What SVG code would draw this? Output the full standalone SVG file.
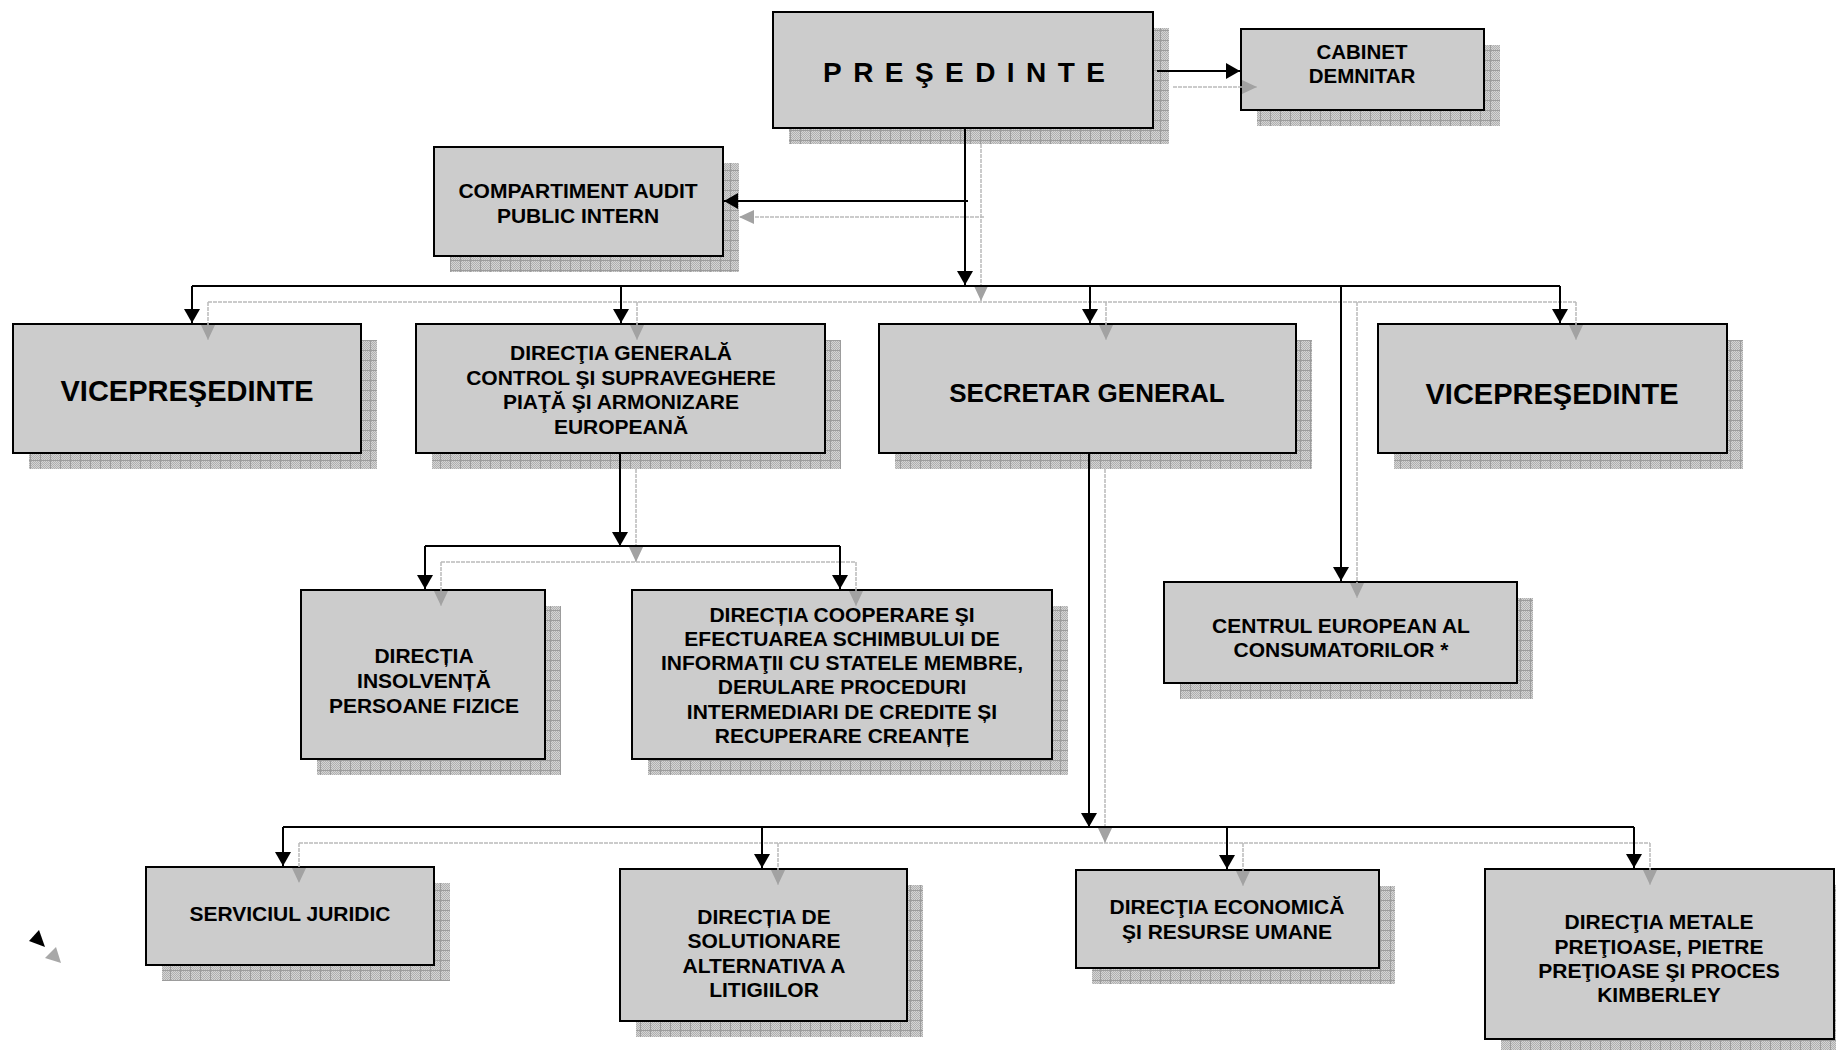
<svg xmlns="http://www.w3.org/2000/svg" width="1836" height="1050" viewBox="0 0 1836 1050">
<defs>
<pattern id="chk" width="2" height="2" patternUnits="userSpaceOnUse">
<rect width="2" height="2" fill="#d4d4d4"/><rect width="1" height="1" fill="#b0b0b0"/><rect x="1" y="1" width="1" height="1" fill="#b0b0b0"/>
</pattern>
<pattern id="grid" width="10" height="10" patternUnits="userSpaceOnUse">
<rect width="10" height="10" fill="url(#chk)"/>
<path d="M0 0.5H10M0.5 0V10" stroke="#9c9c9c" stroke-width="1"/>
</pattern>
<marker id="ab" markerUnits="userSpaceOnUse" viewBox="0 0 14 16" markerWidth="14" markerHeight="16" refX="14" refY="8" orient="auto">
<path d="M0 0L14 8L0 16Z" fill="#000"/>
</marker>
<marker id="ag" markerUnits="userSpaceOnUse" viewBox="0 0 15 14" markerWidth="15" markerHeight="14" refX="15" refY="7" orient="auto">
<path d="M0 0L15 7L0 14Z" fill="#a2a2a2"/>
</marker>
<style>
.sh{fill:url(#grid)}
.box{fill:#cccccc;stroke:#000;stroke-width:2}
.t{font-family:"Liberation Sans",Arial,sans-serif;font-weight:bold;font-size:21px;text-anchor:middle;fill:#000}
.c{fill:none;stroke:#000;stroke-width:2}
.ca{fill:none;stroke:#000;stroke-width:2;marker-end:url(#ab)}
.s{fill:none;stroke:#bababa;stroke-width:1.5;stroke-dasharray:4 1}
.sa{fill:none;stroke:#bababa;stroke-width:1.5;stroke-dasharray:4 1;marker-end:url(#ag)}
</style>
</defs>
<rect width="1836" height="1050" fill="#fff"/>

<g id="presedinte">
<rect class="sh" x="789" y="28" width="380" height="116"/>
<rect class="box" x="773" y="12" width="380" height="116"/>
<text class="t" x="823" y="82" style="font-size:28px;text-anchor:start" textLength="282" lengthAdjust="spacing">PREŞEDINTE</text>
</g>

<g id="cabinet">
<rect class="sh" x="1257" y="45" width="243" height="81"/>
<rect class="box" x="1241" y="29" width="243" height="81"/>
<text class="t" style="font-size:20.5px"><tspan x="1362" y="59">CABINET</tspan><tspan x="1362" y="83">DEMNITAR</tspan></text>
</g>

<g id="audit">
<rect class="sh" x="450" y="163" width="289" height="109"/>
<rect class="box" x="434" y="147" width="289" height="109"/>
<text class="t"><tspan x="578" y="198">COMPARTIMENT AUDIT</tspan><tspan x="578" y="223">PUBLIC INTERN</tspan></text>
</g>

<g id="vice1">
<rect class="sh" x="29" y="340" width="348" height="129"/>
<rect class="box" x="13" y="324" width="348" height="129"/>
<text class="t" x="187" y="401" style="font-size:29px">VICEPREŞEDINTE</text>
</g>

<g id="dg">
<rect class="sh" x="432" y="340" width="409" height="129"/>
<rect class="box" x="416" y="324" width="409" height="129"/>
<text class="t"><tspan x="621" y="360">DIRECŢIA GENERALĂ</tspan><tspan x="621" y="385">CONTROL ŞI SUPRAVEGHERE</tspan><tspan x="621" y="409">PIAŢĂ ŞI ARMONIZARE</tspan><tspan x="621" y="434">EUROPEANĂ</tspan></text>
</g>

<g id="secretar">
<rect class="sh" x="895" y="340" width="417" height="129"/>
<rect class="box" x="879" y="324" width="417" height="129"/>
<text class="t" x="1087" y="402" style="font-size:26px">SECRETAR GENERAL</text>
</g>

<g id="vice2">
<rect class="sh" x="1394" y="340" width="349" height="129"/>
<rect class="box" x="1378" y="324" width="349" height="129"/>
<text class="t" x="1552" y="404" style="font-size:29px">VICEPREŞEDINTE</text>
</g>

<g id="insolventa">
<rect class="sh" x="317" y="606" width="244" height="169"/>
<rect class="box" x="301" y="590" width="244" height="169"/>
<text class="t"><tspan x="424" y="663">DIRECȚIA</tspan><tspan x="424" y="688">INSOLVENȚĂ</tspan><tspan x="424" y="713">PERSOANE FIZICE</tspan></text>
</g>

<g id="cooperare">
<rect class="sh" x="648" y="606" width="420" height="169"/>
<rect class="box" x="632" y="590" width="420" height="169"/>
<text class="t"><tspan x="842" y="622">DIRECȚIA COOPERARE ŞI</tspan><tspan x="842" y="646">EFECTUAREA SCHIMBULUI DE</tspan><tspan x="842" y="670">INFORMAŢII CU STATELE MEMBRE,</tspan><tspan x="842" y="694">DERULARE PROCEDURI</tspan><tspan x="842" y="719">INTERMEDIARI DE CREDITE ȘI</tspan><tspan x="842" y="743">RECUPERARE CREANȚE</tspan></text>
</g>

<g id="centrul">
<rect class="sh" x="1180" y="598" width="353" height="101"/>
<rect class="box" x="1164" y="582" width="353" height="101"/>
<text class="t"><tspan x="1341" y="633">CENTRUL EUROPEAN AL</tspan><tspan x="1341" y="657">CONSUMATORILOR *</tspan></text>
</g>

<g id="juridic">
<rect class="sh" x="162" y="883" width="288" height="98"/>
<rect class="box" x="146" y="867" width="288" height="98"/>
<text class="t" x="290" y="921">SERVICIUL JURIDIC</text>
</g>

<g id="solutionare">
<rect class="sh" x="636" y="885" width="287" height="152"/>
<rect class="box" x="620" y="869" width="287" height="152"/>
<text class="t"><tspan x="764" y="924">DIRECȚIA DE</tspan><tspan x="764" y="948">SOLUTIONARE</tspan><tspan x="764" y="973">ALTERNATIVA A</tspan><tspan x="764" y="997">LITIGIILOR</tspan></text>
</g>

<g id="economica">
<rect class="sh" x="1092" y="886" width="303" height="98"/>
<rect class="box" x="1076" y="870" width="303" height="98"/>
<text class="t"><tspan x="1227" y="914">DIRECŢIA ECONOMICĂ</tspan><tspan x="1227" y="939">ŞI RESURSE UMANE</tspan></text>
</g>

<g id="metale">
<rect class="sh" x="1501" y="885" width="349" height="170"/>
<rect class="box" x="1485" y="869" width="349" height="170"/>
<text class="t"><tspan x="1659" y="929">DIRECŢIA METALE</tspan><tspan x="1659" y="953.5">PREŢIOASE, PIETRE</tspan><tspan x="1659" y="978">PREŢIOASE ŞI PROCES</tspan><tspan x="1659" y="1002">KIMBERLEY</tspan></text>
</g>

<g id="connectors">
<g id="connector-shadows">
<path class="sa" d="M1173 87H1257"/>
<path class="sa" d="M981 144V301"/>
<path class="sa" d="M984 217H739"/>
<path class="s" d="M208 302H1576"/>
<path class="sa" d="M208 302V340"/>
<path class="sa" d="M637 302V340"/>
<path class="sa" d="M1106 302V340"/>
<path class="sa" d="M1357 302V598"/>
<path class="sa" d="M1576 302V340"/>
<path class="sa" d="M636 469V562"/>
<path class="s" d="M441 562H856"/>
<path class="sa" d="M441 562V606"/>
<path class="sa" d="M856 562V606"/>
<path class="sa" d="M1105 469V843"/>
<path class="s" d="M299 843H1650"/>
<path class="sa" d="M299 843V883"/>
<path class="sa" d="M778 843V885"/>
<path class="sa" d="M1243 843V886"/>
<path class="sa" d="M1650 843V885"/>
</g>
<path class="ca" d="M1157 71H1240"/>
<path class="ca" d="M965 128V285"/>
<path class="ca" d="M968 201H724"/>
<path class="c" d="M192 286H1560"/>
<path class="ca" d="M192 286V323"/>
<path class="ca" d="M621 286V323"/>
<path class="ca" d="M1090 286V323"/>
<path class="ca" d="M1341 286V581"/>
<path class="ca" d="M1560 286V323"/>
<path class="ca" d="M620 453V546"/>
<path class="c" d="M425 546H840"/>
<path class="ca" d="M425 546V589"/>
<path class="ca" d="M840 546V589"/>
<path class="ca" d="M1089 453V827"/>
<path class="c" d="M283 827H1634"/>
<path class="ca" d="M283 827V866"/>
<path class="ca" d="M762 827V868"/>
<path class="ca" d="M1227 827V869"/>
<path class="ca" d="M1634 827V868"/>
<polygon points="39,930 29,941 45,947" fill="#000"/>
<polygon points="56,947 45,958 61,963" fill="#a8a8a8"/>
</g>
</svg>
